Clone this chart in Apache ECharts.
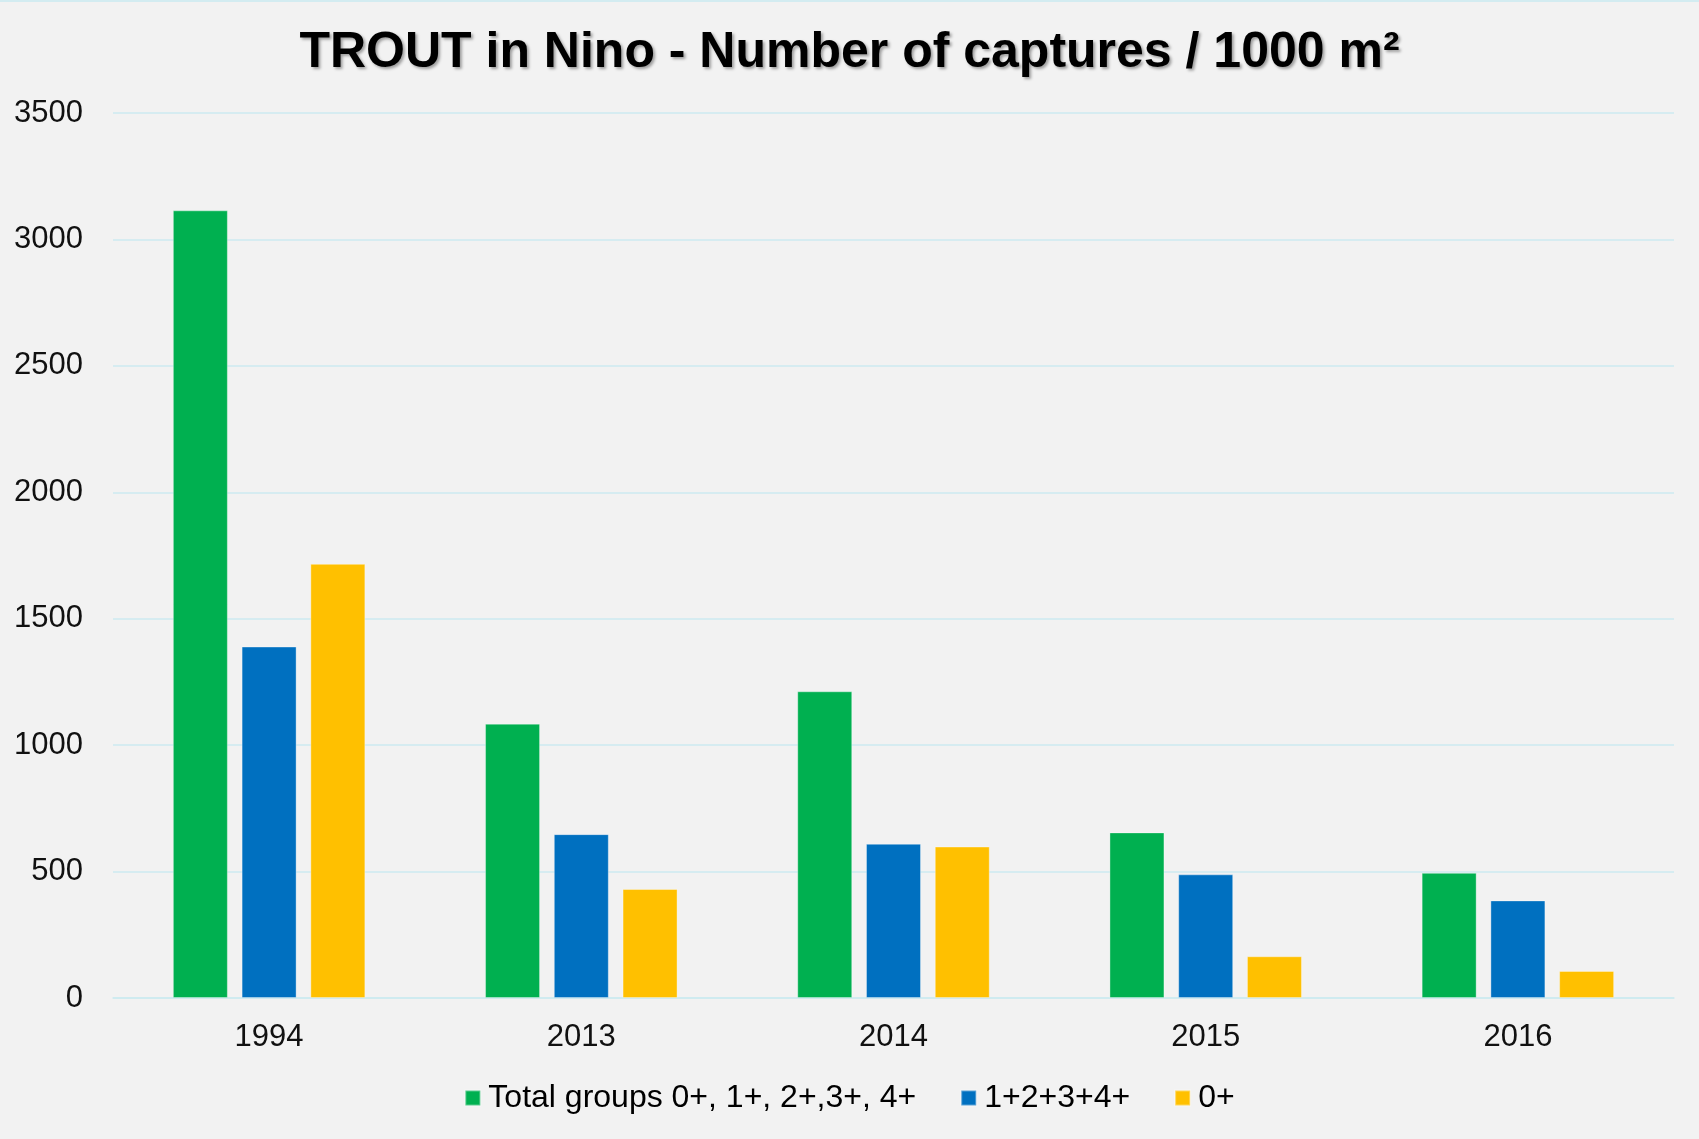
<!DOCTYPE html>
<html>
<head>
<meta charset="utf-8">
<script src="https://cdn.jsdelivr.net/npm/echarts@6/dist/echarts.min.js"></script>
<style>
html,body{margin:0;padding:0;background:#f2f2f2;}
#chart{width:1699px;height:1139px;}
</style>
</head>
<body>
<div id="chart"></div>
<script>
var categories = ['1994', '2013', '2014', '2015', '2016'];
var seriesNames = ['Total groups 0+, 1+, 2+,3+, 4+', '1+2+3+4+', '0+'];
var totalGroups = [3115, 1085, 1213, 655, 495];
var olderGroups = [1390, 648, 610, 489, 386];
var youngGroup = [1717, 431, 599, 165, 107];
var yTicks = [0, 500, 1000, 1500, 2000, 2500, 3000, 3500];
var titleText = 'TROUT in Nino - Number of captures / 1000 m\u00B2';

var colors = ['#00b050', '#0070c0', '#ffc000'];
var chart = echarts.init(document.getElementById('chart'));
var font = '"Liberation Sans", Arial, sans-serif';

function mkSeries(name, data, color) {
  return {
    name: name,
    type: 'bar',
    data: data,
    barWidth: 55,
    barGap: '25%',
    itemStyle: { color: color, borderColor: 'rgba(255,255,255,0.35)', borderWidth: 1 },
    emphasis: { disabled: true }
  };
}

chart.setOption({
  backgroundColor: '#f2f2f2',
  animation: false,
  title: {
    text: titleText,
    left: 'center',
    top: 23,
    textStyle: {
      fontFamily: font,
      fontWeight: 'bold',
      fontSize: 50,
      color: '#000',
      textShadowColor: 'rgba(0,0,0,0.35)',
      textShadowBlur: 3,
      textShadowOffsetX: 2,
      textShadowOffsetY: 2
    }
  },
  legend: {
    bottom: 20,
    left: 'center',
    itemWidth: 15,
    itemHeight: 15,
    itemGap: 44,
    icon: 'rect',
    textStyle: { fontFamily: font, fontSize: 32, color: '#000', padding: [0, 0, 0, 3] },
    data: seriesNames
  },
  grid: { left: 113, right: 25, top: 113, bottom: 141, containLabel: false },
  xAxis: {
    type: 'category',
    data: categories,
    axisLine: { show: true, lineStyle: { color: '#cdeaf0', width: 1.5 } },
    axisTick: { show: false },
    axisLabel: { fontFamily: font, fontSize: 31, color: '#111', margin: 24 }
  },
  yAxis: {
    type: 'value',
    min: yTicks[0],
    max: yTicks[yTicks.length - 1],
    interval: yTicks[1] - yTicks[0],
    axisLine: { show: false },
    axisTick: { show: false },
    axisLabel: { fontFamily: font, fontSize: 31, color: '#111', margin: 30, formatter: function (v) { return String(v); } },
    splitLine: { lineStyle: { color: '#cdeaf0', width: 1.5 } }
  },
  graphic: [{
    type: 'line',
    shape: { x1: 0, y1: 1, x2: 1699, y2: 1 },
    style: { stroke: '#d3ecf1', lineWidth: 2 }
  }],
  series: [
    mkSeries(seriesNames[0], totalGroups, colors[0]),
    mkSeries(seriesNames[1], olderGroups, colors[1]),
    mkSeries(seriesNames[2], youngGroup, colors[2])
  ]
});
</script>
</body>
</html>
